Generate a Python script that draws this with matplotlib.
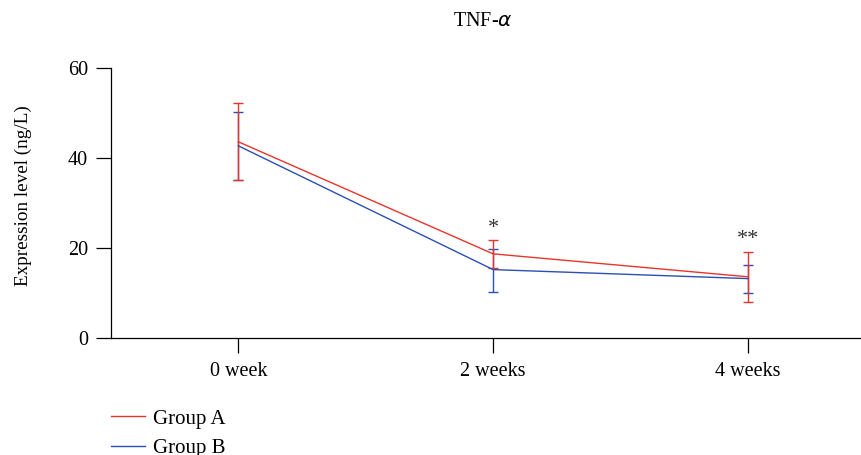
import numpy as np
import matplotlib.pyplot as plt

plt.rcParams['font.family'] = ['Liberation Serif', 'DejaVu Serif']

timepoints = ['0 week', '2 weeks', '4 weeks']
group_a_mean = [43.6, 18.7, 13.6]
group_a_low = [35.2, 15.5, 8.1]
group_a_high = [52.2, 21.7, 19.1]
group_b_mean = [42.7, 15.2, 13.2]
group_b_low = [35.2, 10.3, 10.0]
group_b_high = [50.3, 19.8, 16.3]
marks = ['', '*', '**']
mark_y = [None, 24.4, 21.8]

red = '#e8352c'
blue = '#2b4fb3'

x = np.arange(len(timepoints))

fig = plt.figure(figsize=(8.61, 4.55), dpi=100)
ax = fig.add_axes([111 / 861, 1 - 338 / 455, (860 - 111) / 861, (338 - 68) / 455])

def draw(mean, low, high, color, label):
    mean = np.array(mean)
    yerr = [mean - np.array(low), np.array(high) - mean]
    ax.errorbar(x, mean, yerr=yerr, color=color, lw=1.0, elinewidth=1.0,
                capsize=3.6, capthick=1.0, label=label)

draw(group_b_mean, group_b_low, group_b_high, blue, 'Group B')
draw(group_a_mean, group_a_low, group_a_high, red, 'Group A')

for i, m in enumerate(marks):
    if m:
        ax.text(x[i], mark_y[i], m, ha='center', va='center', fontsize=16, color='#333333')

ax.set_xlim(-0.5, 2.44)
ax.set_ylim(0, 60)
ax.set_yticks([0, 20, 40, 60])
ax.set_xticks(x)
ax.set_xticklabels(timepoints)
ax.tick_params(labelsize=14.5, direction='out', length=10.5, width=0.9, pad=6)
ax.tick_params(axis='x', pad=7)
ax.spines['top'].set_visible(False)
ax.spines['right'].set_visible(False)
ax.spines['left'].set_linewidth(0.9)
ax.spines['bottom'].set_linewidth(0.9)
ax.set_ylabel('Expression level (ng/L)', fontsize=13.8)
ax.yaxis.set_label_coords(23 / 861, 1 - 196 / 455, transform=fig.transFigure)
ax.yaxis.label.set_va('center')
fig.text(483 / 861, 1 - 22 / 455, 'TNF-$\\alpha$', ha='center', va='center', fontsize=14.5)

h = [plt.Line2D([], [], color=red, lw=1.0), plt.Line2D([], [], color=blue, lw=1.0)]
fig.legend(h, ['Group A', 'Group B'], loc='upper left', bbox_to_anchor=(111 / 861, 1 - 409 / 455),
           frameon=False, fontsize=15, handlelength=1.63, handletextpad=0.38, labelspacing=0.49,
           borderaxespad=0, borderpad=0)

fig.savefig('out.png', dpi=100)
